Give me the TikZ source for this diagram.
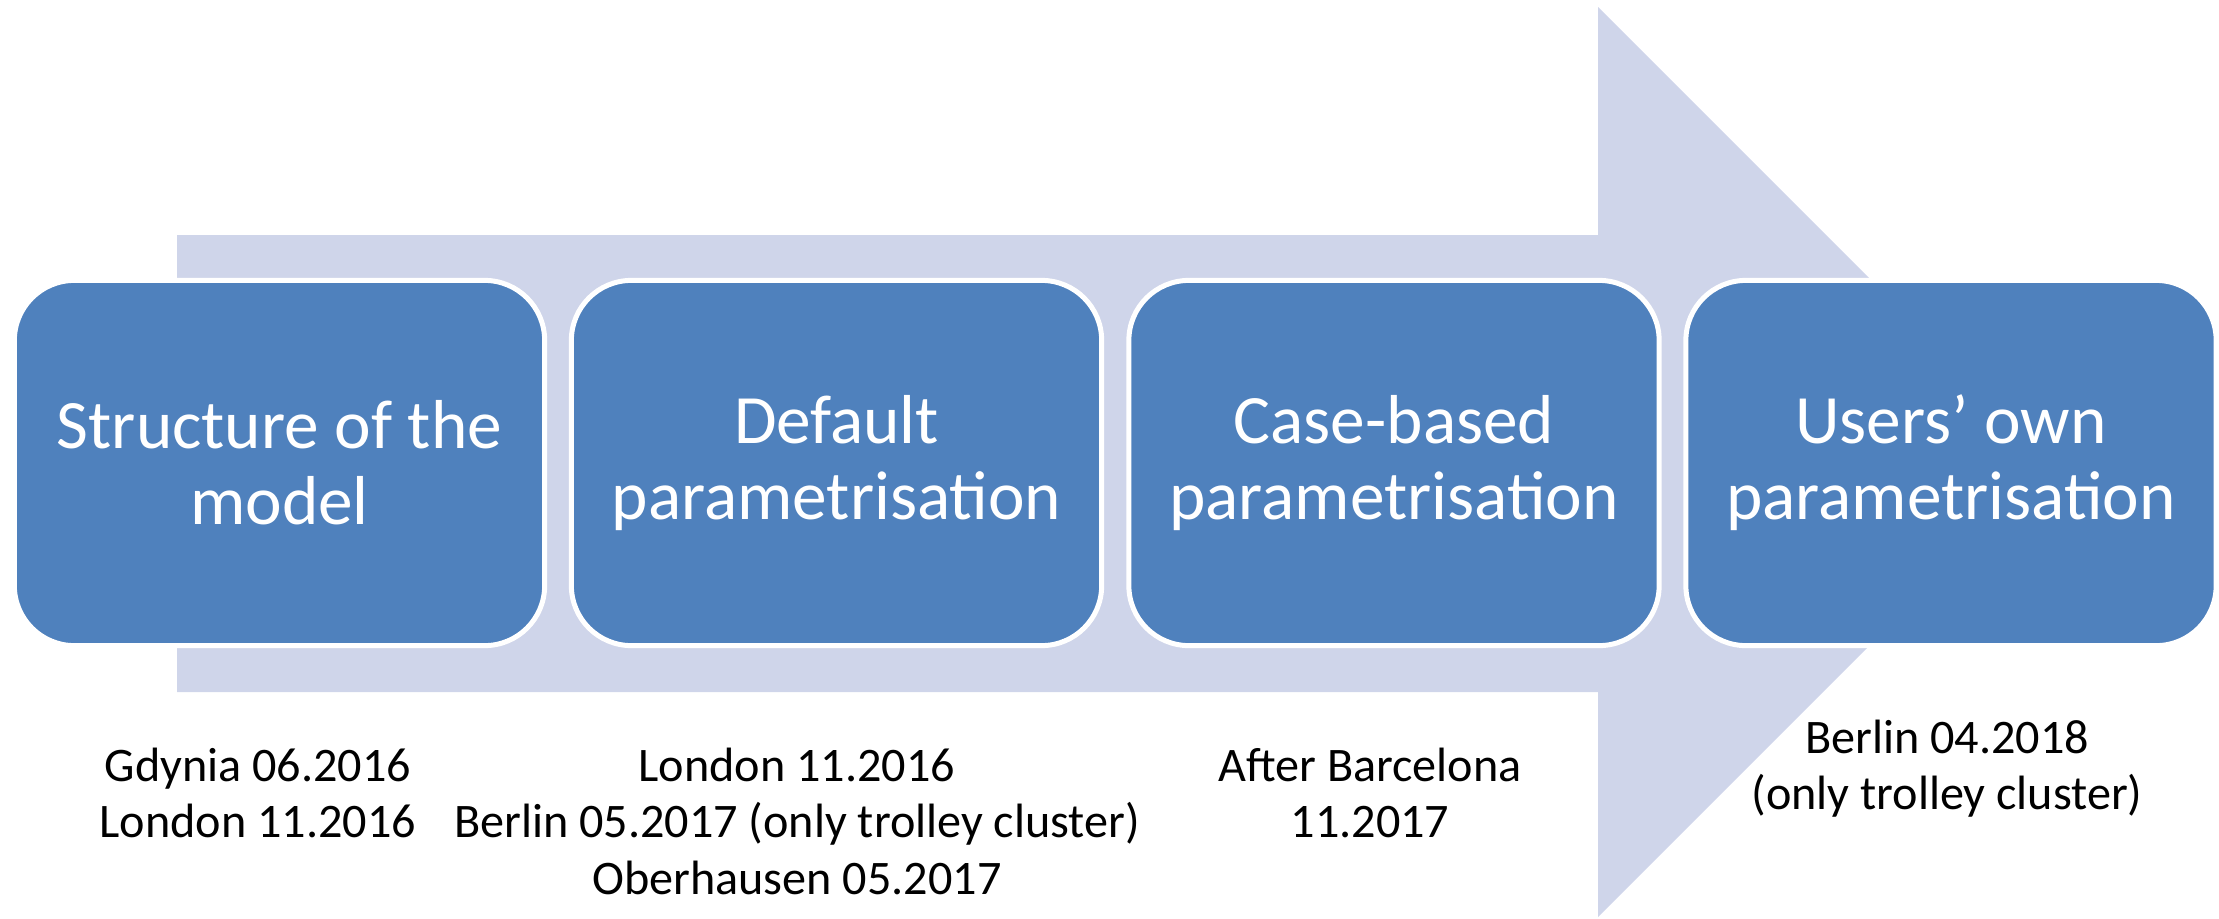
\documentclass[tikz,border=0pt]{standalone}
\usepackage{fontspec}
\setmainfont{Carlito}
\definecolor{arrowc}{HTML}{CFD5EA}
\definecolor{boxc}{HTML}{4F81BD}
\tikzset{
  stagebox/.style={draw=white, line width=0.05cm, fill=boxc, rounded corners=0.6cm,
    minimum width=5.30cm, minimum height=3.65cm, inner sep=0pt, text=white, align=center,
    font=\fontsize{19.7}{21.6}\selectfont},
  datenote/.style={anchor=base, inner sep=0pt, text=black,
    font=\fontsize{13.7}{16.1}\selectfont}
}
\newcommand{\datelines}[1]{\begin{tabular}[t]{@{}c@{}}#1\end{tabular}}
\begin{document}
\begin{tikzpicture}[x=0.01cm,y=-0.01cm]
\useasboundingbox (0,0) rectangle (2219,918);
\fill[arrowc] (177,235) -- (1598,235) -- (1598,7) -- (2053,462) -- (1598,917) -- (1598,692) -- (177,692) -- cycle;
\node[stagebox] (s1) at (279.5,463) {Structure of the\\model};
\node[stagebox] (s2) at (836.5,463) {Default\\parametrisation};
\node[stagebox] (s3) at (1394,463) {Case-based\\parametrisation};
\node[stagebox] (s4) at (1951,463) {Users’ own\\parametrisation};
\node[datenote] (d1) at (258,781) {\datelines{Gdynia 06.2016\\London 11.2016}};
\node[datenote] (d2) at (797,781) {\datelines{London 11.2016\\Berlin 05.2017 (only trolley cluster)\\Oberhausen 05.2017}};
\node[datenote] (d3) at (1370,781) {\datelines{After Barcelona\\11.2017}};
\node[datenote] (d4) at (1947,753) {\datelines{Berlin 04.2018\\(only trolley cluster)}};
\end{tikzpicture}
\end{document}
